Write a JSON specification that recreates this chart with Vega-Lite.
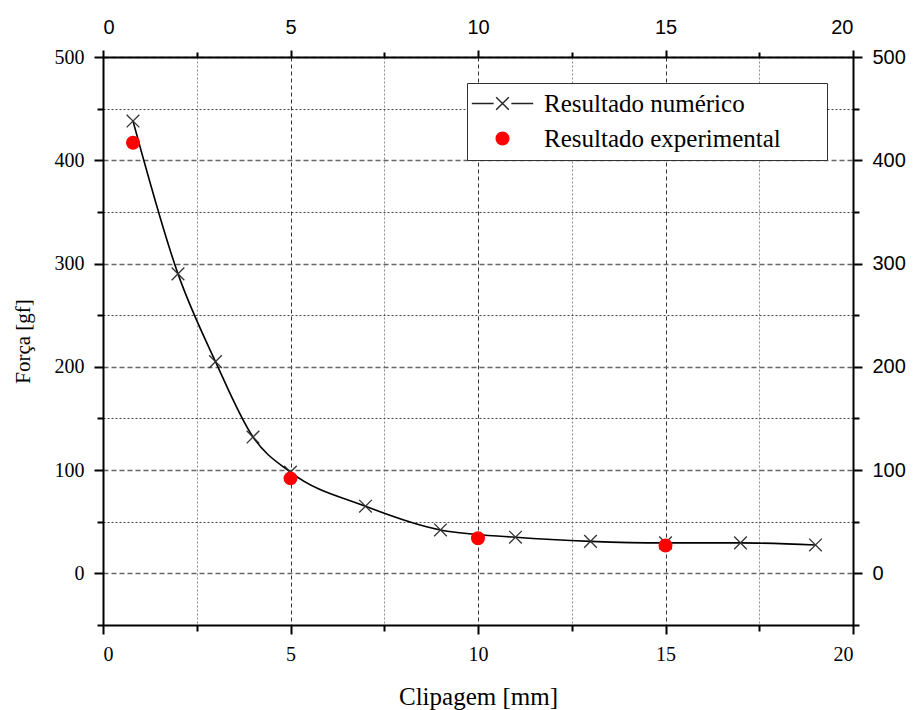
{
  "$schema": "https://vega.github.io/schema/vega-lite/v6.json",
  "autosize": {"type": "none"},
  "width": 750,
  "height": 568,
  "padding": {"left": 103, "top": 57, "right": 61, "bottom": 85},
  "background": "white",
  "config": {
    "view": {"stroke": null},
    "axis": {
      "domainColor": "black",
      "domainWidth": 2,
      "tickColor": "black",
      "tickWidth": 2,
      "labelColor": "black",
      "titleColor": "black",
      "titleFontWeight": "normal"
    }
  },
  "data": {
    "values": [
      {"series": "Resultado numérico", "x": 0.8, "y": 438},
      {"series": "Resultado numérico", "x": 2, "y": 290},
      {"series": "Resultado numérico", "x": 3, "y": 205},
      {"series": "Resultado numérico", "x": 4, "y": 132},
      {"series": "Resultado numérico", "x": 5, "y": 98},
      {"series": "Resultado numérico", "x": 7, "y": 65},
      {"series": "Resultado numérico", "x": 9, "y": 42},
      {"series": "Resultado numérico", "x": 11, "y": 35},
      {"series": "Resultado numérico", "x": 13, "y": 31},
      {"series": "Resultado numérico", "x": 15, "y": 29.5},
      {"series": "Resultado numérico", "x": 17, "y": 29.5},
      {"series": "Resultado numérico", "x": 19, "y": 27.5},
      {"series": "Resultado experimental", "x": 0.8, "y": 417},
      {"series": "Resultado experimental", "x": 5, "y": 92},
      {"series": "Resultado experimental", "x": 10, "y": 34},
      {"series": "Resultado experimental", "x": 15, "y": 27}
    ]
  },
  "layer": [
    {
      "transform": [{"filter": "datum.series === 'Resultado numérico'"}],
      "mark": {"type": "line", "interpolate": "monotone", "color": "black", "strokeWidth": 1.6},
      "encoding": {
        "x": {
          "field": "x", "type": "quantitative",
          "scale": {"domain": [0, 20], "nice": false, "zero": false},
          "axis": {
            "orient": "bottom",
            "values": [0, 2.5, 5, 7.5, 10, 12.5, 15, 17.5, 20],
            "labelExpr": "datum.value % 5 === 0 ? datum.label : ''",
            "labelFont": "Liberation Serif",
            "labelFontSize": 20,
            "labelPadding": 10,
            "tickSize": {"condition": {"test": "datum.value % 5 === 0", "value": 9}, "value": 6},
            "grid": true,
            "gridColor": {"condition": {"test": "datum.value % 5 === 0", "value": "#333"}, "value": "#888"},
            "gridDash": {"condition": {"test": "datum.value % 5 === 0", "value": [4, 3]}, "value": [2, 2]},
            "gridWidth": 1,
            "title": "Clipagem [mm]",
            "titleFont": "Liberation Serif",
            "titleFontSize": 25,
            "titlePadding": 20
          }
        },
        "y": {
          "field": "y", "type": "quantitative",
          "scale": {"domain": [-50, 500], "nice": false, "zero": false},
          "axis": {
            "orient": "left",
            "values": [-50, 0, 50, 100, 150, 200, 250, 300, 350, 400, 450, 500],
            "labelExpr": "datum.value % 100 === 0 && datum.value >= 0 ? datum.label : ''",
            "labelFont": "Liberation Serif",
            "labelFontSize": 20,
            "labelPadding": 10,
            "tickSize": {"condition": {"test": "datum.value % 100 === 0", "value": 9}, "value": 6},
            "grid": true,
            "gridColor": {"condition": {"test": "datum.value % 100 === 0", "value": "#666"}, "value": "#444"},
            "gridDash": {"condition": {"test": "datum.value % 100 === 0", "value": [5, 3]}, "value": [2, 2]},
            "gridWidth": {"condition": {"test": "datum.value % 100 === 0", "value": 1.6}, "value": 1},
            "title": "Força [gf]",
            "titleFont": "Liberation Serif",
            "titleFontSize": 21,
            "titlePadding": 21
          }
        }
      }
    },
    {
      "transform": [{"filter": "datum.series === 'Resultado numérico'"}],
      "mark": {"type": "point", "opacity": 1, "strokeWidth": 1.3, "size": 160, "shape": "M-1,-1L1,1M-1,1L1,-1", "filled": false, "stroke": "#333333"},
      "encoding": {
        "x": {"field": "x", "type": "quantitative", "axis": null},
        "y": {"field": "y", "type": "quantitative", "axis": null}
      }
    },
    {
      "transform": [{"filter": "datum.series === 'Resultado experimental'"}],
      "mark": {"type": "point", "opacity": 1, "strokeWidth": 1.3, "size": 160},
      "encoding": {
        "x": {
          "field": "x", "type": "quantitative",
          "axis": {
            "orient": "top",
            "values": [0, 2.5, 5, 7.5, 10, 12.5, 15, 17.5, 20],
            "labelExpr": "datum.value % 5 === 0 ? datum.label : ''",
            "labelFont": "Liberation Sans",
            "labelFontSize": 20,
            "labelPadding": 13,
            "tickSize": {"condition": {"test": "datum.value % 5 === 0", "value": 7}, "value": 5},
            "grid": false,
            "title": null
          }
        },
        "y": {
          "field": "y", "type": "quantitative",
          "axis": {
            "orient": "right",
            "values": [-50, 0, 50, 100, 150, 200, 250, 300, 350, 400, 450, 500],
            "labelExpr": "datum.value % 100 === 0 && datum.value >= 0 ? datum.label : ''",
            "labelFont": "Liberation Sans",
            "labelFontSize": 20,
            "labelPadding": 10,
            "tickSize": {"condition": {"test": "datum.value % 100 === 0", "value": 9}, "value": 6},
            "grid": false,
            "title": null
          }
        },
        "shape": {
          "field": "series", "type": "nominal",
          "scale": {"domain": ["Resultado numérico", "Resultado experimental"], "range": ["M-4.85,0L-1.4,0M-1,-1L1,1M-1,1L1,-1M1.4,0L4.85,0", "circle"]},
          "legend": {
            "orient": "none",
            "legendX": 364,
            "legendY": 26,
            "title": "xxxxx",
            "titleOrient": "right",
            "titleOpacity": 0,
            "titleFontSize": 12,
            "titlePadding": 4,
            "labelFont": "Liberation Serif",
            "labelFontSize": 25,
            "labelColor": "black",
            "labelLimit": 400,
            "strokeColor": "#333",
            "fillColor": "white",
            "padding": 8,
            "rowPadding": 9,
            "symbolSize": 160,
            "symbolStrokeWidth": 1.4,
            "symbolOffset": 15,
            "labelOffset": 29
          }
        },
        "fill": {
          "field": "series", "type": "nominal",
          "scale": {"domain": ["Resultado numérico", "Resultado experimental"], "range": ["transparent", "#ff0000"]},
          "legend": null
        },
        "stroke": {
          "field": "series", "type": "nominal",
          "scale": {"domain": ["Resultado numérico", "Resultado experimental"], "range": ["#222222", "#ff0000"]},
          "legend": null
        }
      }
    }
  ],
  "resolve": {"axis": {"x": "independent", "y": "independent"}}
}
